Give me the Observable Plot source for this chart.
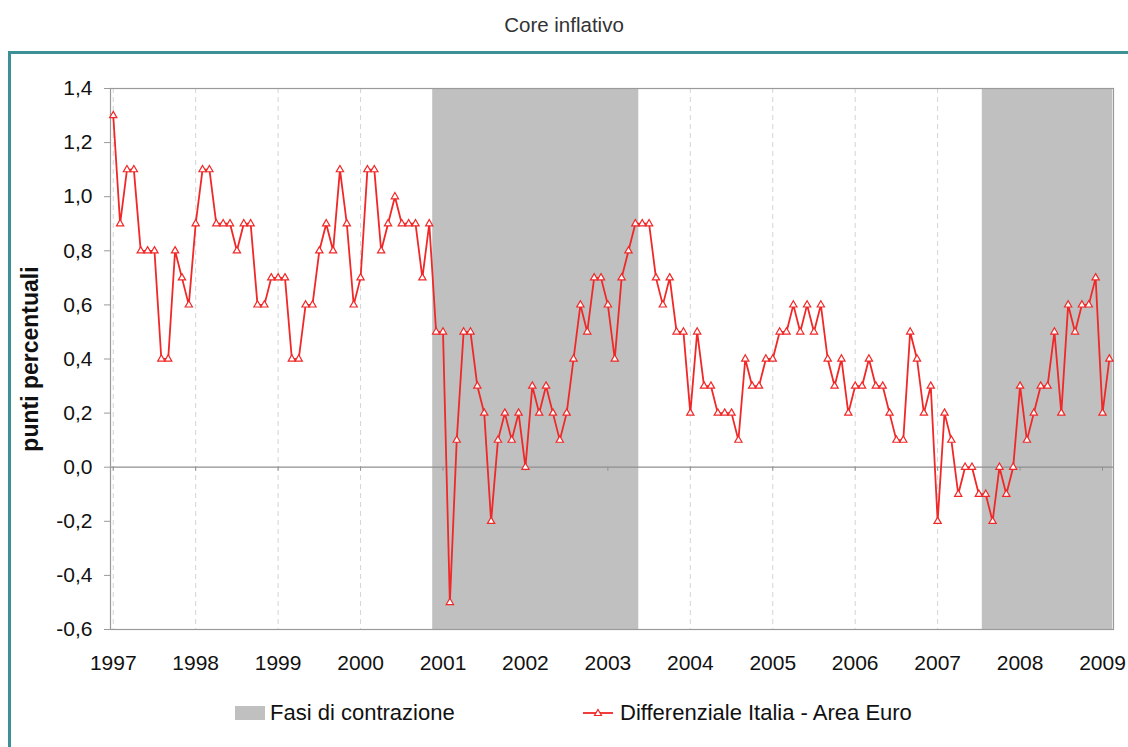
<!DOCTYPE html>
<html><head><meta charset="utf-8">
<script src="https://cdn.jsdelivr.net/npm/d3@7"></script>
<script src="https://cdn.jsdelivr.net/npm/@observablehq/plot@0.6"></script>
<style>
body{margin:0;background:#fff;font-family:"Liberation Sans",Arial,sans-serif;}
#wrap{position:relative;width:1128px;height:747px;overflow:hidden;background:#fff;}
#title{position:absolute;top:13px;left:0;width:1128px;text-align:center;font-size:20.5px;color:#333;line-height:24px;}
#frame{position:absolute;left:8px;top:51px;width:1200px;height:800px;border-top:3px solid #3d9096;border-left:3px solid #3d9096;}
#chart{position:absolute;left:0;top:0;}
.leg{position:absolute;top:700px;height:26px;line-height:26px;font-size:22px;color:#111;white-space:nowrap;}
.leg svg{position:absolute;top:0;}
</style></head><body>
<div id="wrap">
<div id="title">Core inflativo</div>
<div id="chart"></div>
<div id="frame"></div>
<div class="leg" style="left:235px;"><svg width="30" height="26"><rect x="0" y="6" width="30" height="14" fill="#c0c0c0"/></svg><span style="margin-left:35px">Fasi di contrazione</span></div>
<div class="leg" style="left:583px;"><svg width="32" height="26"><line x1="0" y1="13" x2="30" y2="13" stroke="#f02828" stroke-width="1.8"/><path d="M15,9.5 L18.5,15.5 L11.5,15.5 Z" fill="#fff" stroke="#f02828" stroke-width="1.2"/></svg><span style="margin-left:37px">Differenziale Italia - Area Euro</span></div>
</div>
<script>
// Monthly differential (percentage points), Jan 1997 - Feb 2009
const v1997 = [1.3, 0.9, 1.1, 1.1, 0.8, 0.8, 0.8, 0.4, 0.4, 0.8, 0.7, 0.6];
const v1998 = [0.9, 1.1, 1.1, 0.9, 0.9, 0.9, 0.8, 0.9, 0.9, 0.6, 0.6, 0.7];
const v1999 = [0.7, 0.7, 0.4, 0.4, 0.6, 0.6, 0.8, 0.9, 0.8, 1.1, 0.9, 0.6];
const v2000 = [0.7, 1.1, 1.1, 0.8, 0.9, 1.0, 0.9, 0.9, 0.9, 0.7, 0.9, 0.5];
const v2001 = [0.5, -0.5, 0.1, 0.5, 0.5, 0.3, 0.2, -0.2, 0.1, 0.2, 0.1, 0.2];
const v2002 = [0.0, 0.3, 0.2, 0.3, 0.2, 0.1, 0.2, 0.4, 0.6, 0.5, 0.7, 0.7];
const v2003 = [0.6, 0.4, 0.7, 0.8, 0.9, 0.9, 0.9, 0.7, 0.6, 0.7, 0.5, 0.5];
const v2004 = [0.2, 0.5, 0.3, 0.3, 0.2, 0.2, 0.2, 0.1, 0.4, 0.3, 0.3, 0.4];
const v2005 = [0.4, 0.5, 0.5, 0.6, 0.5, 0.6, 0.5, 0.6, 0.4, 0.3, 0.4, 0.2];
const v2006 = [0.3, 0.3, 0.4, 0.3, 0.3, 0.2, 0.1, 0.1, 0.5, 0.4, 0.2, 0.3];
const v2007 = [-0.2, 0.2, 0.1, -0.1, 0.0, 0.0, -0.1, -0.1, -0.2, 0.0, -0.1, 0.0];
const v2008 = [0.3, 0.1, 0.2, 0.3, 0.3, 0.5, 0.2, 0.6, 0.5, 0.6, 0.6, 0.7];
const v2009 = [0.2, 0.4];

const startYear = 1997;
const yearLabels = ["1997","1998","1999","2000","2001","2002","2003","2004","2005","2006","2007","2008","2009"];
const yTicks = [-0.6, -0.4, -0.2, 0.0, 0.2, 0.4, 0.6, 0.8, 1.0, 1.2, 1.4];
// Contraction phases (first and last month)
const contractionStart = ["2000-12", "2007-08"];
const contractionEnd = ["2003-05", "2009-02"];

const values = [v1997, v1998, v1999, v2000, v2001, v2002, v2003, v2004, v2005, v2006, v2007, v2008, v2009].flat();
const data = values.map((v, i) => ({i, v}));
const monthIndex = s => { const [y, m] = s.split("-").map(Number); return (y - startYear) * 12 + (m - 1); };
const xMax = values.length - 1 + 0.6;
const periods = contractionStart.map((s, k) => ({
  x1: monthIndex(s) - 0.5,
  x2: Math.min(monthIndex(contractionEnd[k]) + 0.5, xMax)
}));
const yearIdx = yearLabels.map((_, k) => k * 12);
const comma = d => d.toFixed(1).replace(".", ",");

const chart = Plot.plot({
  width: 1128,
  height: 747,
  marginTop: 88,
  marginBottom: 118,
  marginLeft: 110,
  marginRight: 15,
  style: {background: "transparent", fontFamily: "'Liberation Sans', Arial, sans-serif", fontSize: "21px", color: "#111"},
  x: {domain: [-0.4, xMax]},
  y: {domain: [-0.6, 1.4]},
  marks: [
    Plot.ruleX(yearIdx, {x: d => d, stroke: "#d4d4d4", strokeDasharray: "5,4", strokeWidth: 1}),
    Plot.rect(periods, {x1: "x1", x2: "x2", y1: -0.6, y2: 1.4, fill: "#c0c0c0"}),
    Plot.ruleY([0], {stroke: "#8f8f8f", strokeWidth: 1.2}),
    Plot.ruleX(yearIdx, {x: d => d, y1: 0, y2: 0, insetBottom: -4, stroke: "#8f8f8f"}),
    Plot.frame({stroke: "#9a9a9a", strokeWidth: 1.2}),
    Plot.axisY({ticks: yTicks, tickFormat: comma, tickSize: 6, tickPadding: 12, stroke: "#9a9a9a", label: null}),
    Plot.axisX({ticks: yearIdx, tickFormat: d => yearLabels[d / 12], tickSize: 0, tickPadding: 26, label: null}),
    Plot.text(["punti percentuali"], {frameAnchor: "left", textAnchor: "middle", rotate: -90, dx: -80, fontWeight: "bold", fontSize: 23, fill: "#111"}),
    Plot.line(data, {x: "i", y: "v", stroke: "#f02828", strokeWidth: 1.8}),
    Plot.dot(data, {x: "i", y: "v", symbol: "triangle", r: 2.7, stroke: "#f02828", fill: "#fff", strokeWidth: 1.2})
  ]
});
document.getElementById("chart").appendChild(chart);
</script>
</body></html>
